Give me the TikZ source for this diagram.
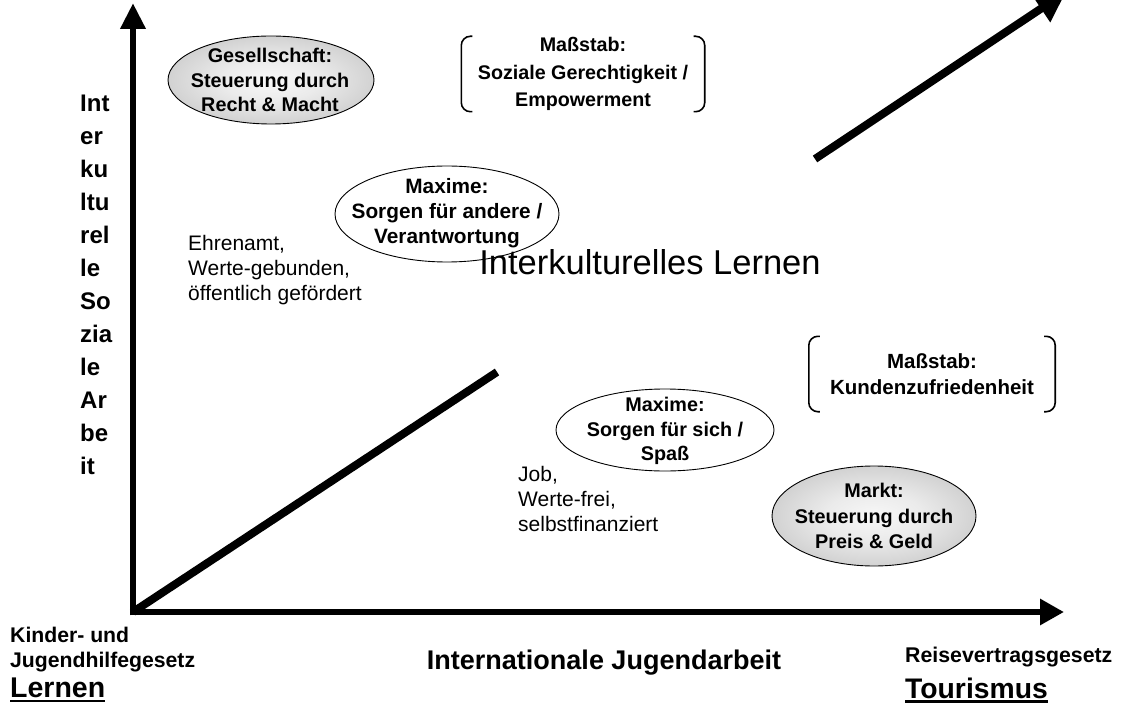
\documentclass[tikz,border=0pt]{standalone}
\usepackage{fontspec}
\setmainfont{Liberation Sans}
\newsavebox{\ulbox}
\newcommand{\thickul}[1]{\sbox{\ulbox}{#1}\rlap{\rule[-4.5pt]{\wd\ulbox}{2.4pt}}\usebox{\ulbox}}
\usetikzlibrary{arrows.meta,shapes.geometric}
\pgfdeclareradialshading{ellshade}{\pgfpoint{0bp}{0bp}}{color(0bp)=(black!3); color(12bp)=(black!8); color(28bp)=(black!20); color(40bp)=(black!34); color(50bp)=(black!46); color(72bp)=(black!46)}
\begin{document}
\begin{tikzpicture}[x=1pt,y=-1pt,
  axisline/.style={line width=6.5pt},
  diagline/.style={line width=8pt},
  grayell/.style={ellipse, draw, line width=0.9pt, shading=ellshade, inner sep=0pt},
  whiteell/.style={ellipse, draw, line width=0.9pt, fill=white, inner sep=0pt},
  elltext/.style={inner sep=0pt, align=center, font=\bfseries\fontsize{19.8}{24.5}\selectfont},
  measurebox/.style={inner sep=0pt, align=center, font=\bfseries\fontsize{19.7}{27.5}\selectfont},
  bracket/.style={line width=1.6pt, rounded corners=9pt},
  plaintext/.style={inner sep=0pt, align=left, anchor=north west, font=\fontsize{21}{25}\selectfont},
  boldlabel/.style={inner sep=0pt, font=\bfseries}
]
\useasboundingbox (0,0) rectangle (1123,708);

% axes
\coordinate (O) at (133,612);
\coordinate (Ytop) at (133,3);
\coordinate (Xend) at (1064,612);
\coordinate (Dend) at (497,372);
\coordinate (Ustart) at (815,159);
\coordinate (Uend) at (1066,-8);
\draw[axisline, shorten <=-3.25pt, -{Triangle[length=26pt,width=24pt]}] (O) -- (Ytop);
\draw[axisline, shorten <=-3.25pt, -{Triangle[length=24pt,width=25pt]}] (O) -- (Xend);
\draw[diagline] (O) -- (Dend);
\draw[diagline, -{Triangle[length=30pt,width=31pt]}] (Ustart) -- (Uend);

% ellipses
\node[grayell, minimum width=206pt, minimum height=88pt] (gesE) at (271,80) {};
\node[elltext] (ges) at (270,80) {Gesellschaft:\\Steuerung durch\\Recht \& Macht};
\node[whiteell, minimum width=224pt, minimum height=96pt] (max1E) at (447,214) {};
\node[elltext, font=\bfseries\fontsize{20.8}{25}\selectfont] (max1) at (447,213) {Maxime:\\Sorgen für andere /\\Verantwortung};
\node[whiteell, minimum width=218pt, minimum height=82pt] (max2E) at (665,430) {};
\node[elltext] (max2) at (665,431) {Maxime:\\Sorgen für sich /\\Spaß};
\node[grayell, minimum width=204pt, minimum height=100pt] (marktE) at (874,516) {};
\node[elltext, font=\bfseries\fontsize{19.8}{25.5}\selectfont] (markt) at (874,516) {Markt:\\Steuerung durch\\Preis \& Geld};

% measure boxes with brackets
\node[measurebox, minimum width=243pt, minimum height=75pt] (ms1) at (583,74) {Maßstab:\\Soziale Gerechtigkeit /\\Empowerment};
\draw[bracket] ([xshift=11pt]ms1.north west) -- (ms1.north west) -- (ms1.south west) -- ([xshift=11pt]ms1.south west);
\draw[bracket] ([xshift=-11pt]ms1.north east) -- (ms1.north east) -- (ms1.south east) -- ([xshift=-11pt]ms1.south east);

\node[measurebox, font=\bfseries\fontsize{20.5}{25.5}\selectfont, minimum width=246pt, minimum height=75pt] (ms2) at (932,374) {Maßstab:\\Kundenzufriedenheit};
\draw[bracket] ([xshift=11pt]ms2.north west) -- (ms2.north west) -- (ms2.south west) -- ([xshift=11pt]ms2.south west);
\draw[bracket] ([xshift=-11pt]ms2.north east) -- (ms2.north east) -- (ms2.south east) -- ([xshift=-11pt]ms2.south east);

% plain texts
\node[plaintext] (ehren) at (188,235) {Ehrenamt,\\Werte-gebunden,\\öffentlich gefördert};
\node[plaintext] (job) at (518,466) {Job,\\Werte-frei,\\selbstfinanziert};
\node[inner sep=0pt, font=\fontsize{34.5}{36}\selectfont] (ikl) at (650,262) {Interkulturelles Lernen};

% y-axis label
\node[boldlabel, anchor=north west, align=left, font=\bfseries\fontsize{24}{33}\selectfont] (ylab) at (80,95) {Int\\er\\ku\\ltu\\rel\\le\\So\\zia\\le\\Ar\\be\\it};

% bottom labels
\node[boldlabel, anchor=north west, align=left, font=\bfseries\fontsize{21.2}{25}\selectfont] (kjhg) at (10,627) {Kinder- und\\Jugendhilfegesetz};
\node[boldlabel, anchor=west, font=\bfseries\fontsize{28.5}{30}\selectfont] (lernen) at (10,690) {\thickul{Lernen}};
\node[boldlabel, font=\bfseries\fontsize{27}{30}\selectfont] (ija) at (604,663) {Internationale Jugendarbeit};
\node[boldlabel, anchor=west, font=\bfseries\fontsize{21.3}{25}\selectfont] (rvg) at (905,657) {Reisevertragsgesetz};
\node[boldlabel, anchor=west, font=\bfseries\fontsize{28.3}{30}\selectfont] (tour) at (905,690) {\thickul{Tourismus}};
\end{tikzpicture}
\end{document}
